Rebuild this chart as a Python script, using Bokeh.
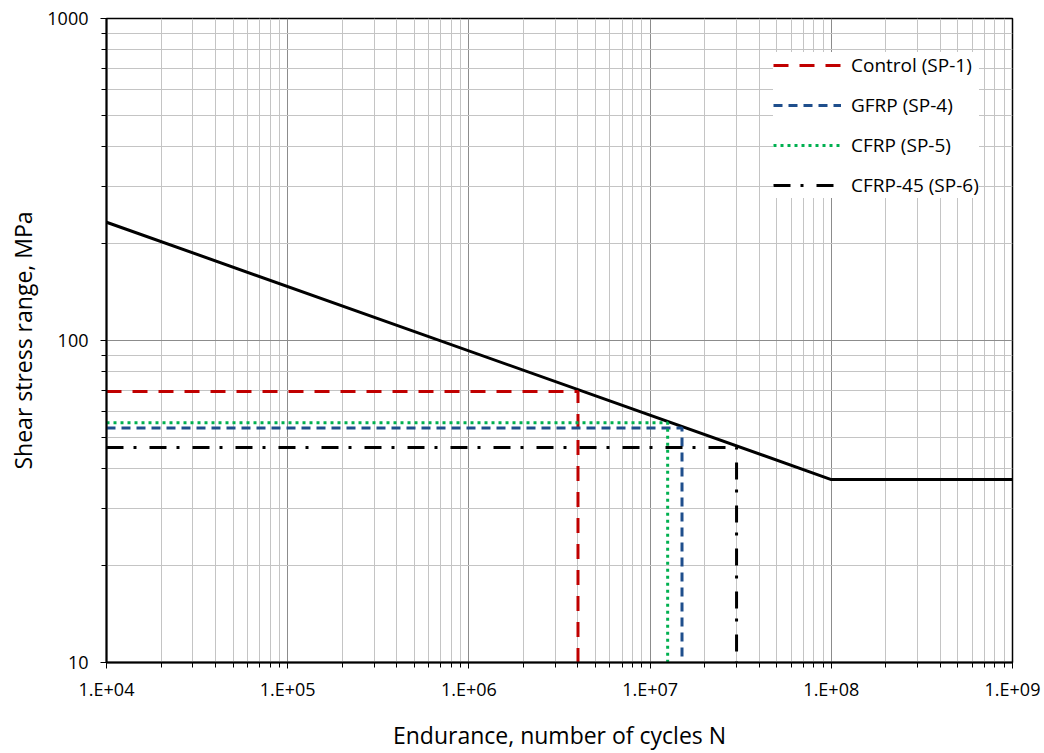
from bokeh.plotting import figure
from bokeh.models import FixedTicker, CustomJSTickFormatter, Legend, LegendItem, Range1d
from bokeh.embed import file_html
from bokeh.resources import INLINE

# S-N design curve
sn_N = [1e4, 1e8, 1e9]
sn_S = [233, 37, 37]

# Test specimens
specimens = ["Control (SP-1)", "GFRP (SP-4)", "CFRP (SP-5)", "CFRP-45 (SP-6)"]
N_f = [4.0e6, 1.5e7, 1.25e7, 3.0e7]
S_r = [69.5, 53.5, 55.5, 46.5]
colors = ["#c00000", "#1f4e8c", "#00b050", "#000000"]
dashes = ["15 11", "9 6", "3 4", "17 10 3 13"]

x_major = [1e4, 1e5, 1e6, 1e7, 1e8, 1e9]
y_major = [10, 100, 1000]

FONT = "Open Sans"

p = figure(width=1044, height=753, x_axis_type="log", y_axis_type="log",
           x_range=Range1d(1e4, 1e9), y_range=Range1d(10, 1000),
           output_backend="svg", toolbar_location=None,
           min_border_left=106, min_border_right=32, min_border_top=18, min_border_bottom=90)
p.background_fill_color = "white"
p.border_fill_color = "white"
p.outline_line_color = "black"
p.outline_line_width = 1.5

x_minor = [m * d for d in x_major[:-1] for m in range(2, 10)]
y_minor = [m * d for d in y_major[:-1] for m in range(2, 10)]
p.xaxis.ticker = FixedTicker(ticks=x_major, minor_ticks=x_minor)
p.yaxis.ticker = FixedTicker(ticks=y_major, minor_ticks=y_minor)
p.xaxis.formatter = CustomJSTickFormatter(code="""
    const e = Math.round(Math.log10(tick));
    return "1.E+" + String(e).padStart(2, "0");
""")
p.yaxis.formatter = CustomJSTickFormatter(code="return Math.round(tick).toString();")

for ax in (p.xaxis, p.yaxis):
    ax.axis_line_color = "black"
    ax.axis_line_width = 2
    ax.major_tick_line_color = "black"
    ax.minor_tick_line_color = "black"
    ax.major_tick_in = 0
    ax.major_tick_out = 6
    ax.minor_tick_in = 0
    ax.minor_tick_out = 5
    ax.major_label_text_font = FONT
    ax.major_label_text_font_size = "18px"
    ax.major_label_text_color = "#000000"
    ax.axis_label_text_font = FONT
    ax.axis_label_text_font_size = "23px"
    ax.axis_label_text_font_style = "normal"
    ax.axis_label_text_color = "#000000"

p.xaxis.axis_label = "Endurance, number of cycles N"
p.yaxis.axis_label = "Shear stress range, MPa"
p.xaxis.major_label_standoff = 8
p.xaxis.axis_label_standoff = 15
p.yaxis.major_label_standoff = 12
p.yaxis.axis_label_standoff = 5

for g in (p.xgrid, p.ygrid):
    g.grid_line_color = "#8c8c8c"
    g.grid_line_width = 1
    g.minor_grid_line_color = "#c4c4c4"
    g.minor_grid_line_width = 1

# S-N curve
p.line(sn_N, sn_S, line_color="black", line_width=3)

items = []
for name, nf, s, c, d in zip(specimens, N_f, S_r, colors, dashes):
    xs = [sn_N[0], nf, nf]
    ys = [s, s, y_major[0]]
    r = p.line(xs, ys, line_color=c, line_width=3, line_dash=d)
    items.append(LegendItem(label=name, renderers=[r]))

legend = Legend(items=items, location=(667, 464), orientation="vertical",
                glyph_width=68, glyph_height=20, label_height=20,
                spacing=14, padding=14, margin=0, label_standoff=10,
                label_text_font=FONT, label_text_font_size="19px",
                label_text_color="black",
                background_fill_color="white", background_fill_alpha=1.0,
                border_line_color=None)
p.add_layout(legend, "center")

open("out.html", "w").write(file_html(p, INLINE))
